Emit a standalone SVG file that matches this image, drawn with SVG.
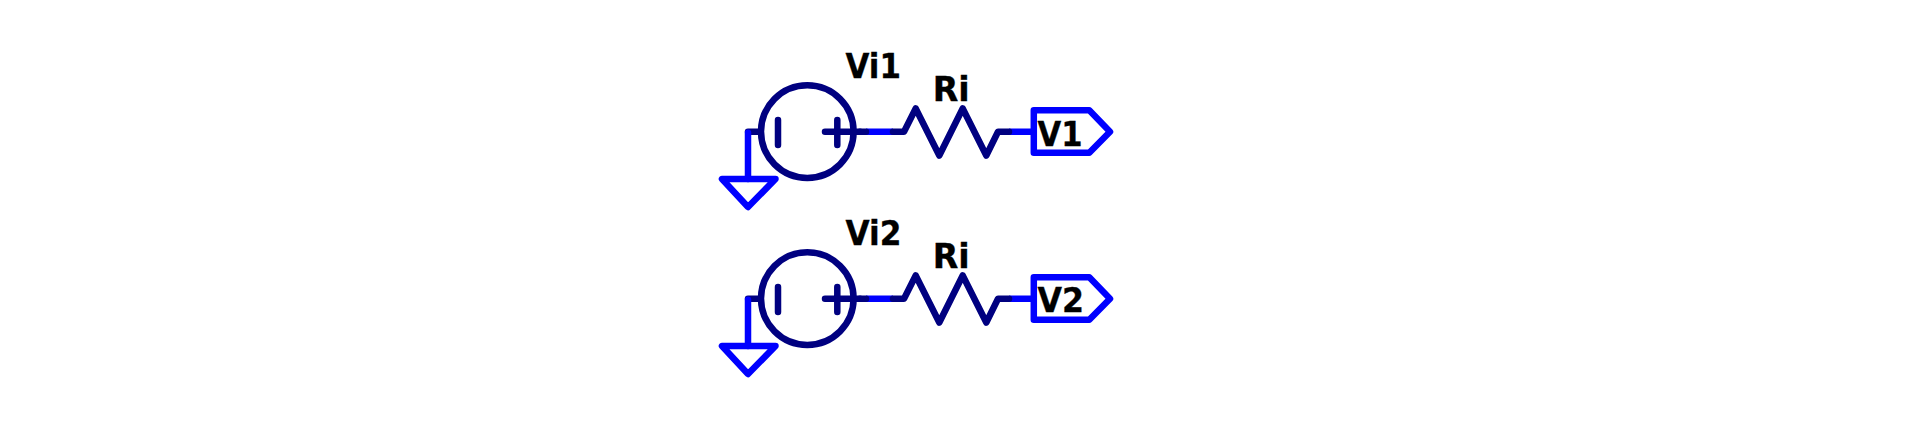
<svg xmlns="http://www.w3.org/2000/svg" width="1916" height="432" viewBox="0 0 1916 432">
<style>
.s{fill:none;stroke:#000080;stroke-width:6.5;stroke-linecap:round;stroke-linejoin:round}
.w{fill:none;stroke:#0000ff;stroke-width:6.5;stroke-linecap:butt;stroke-linejoin:round}
.f{fill:none;stroke:#0000ff;stroke-width:6.5;stroke-linecap:round;stroke-linejoin:round}
text{font-family:"DejaVu Sans",Verdana,sans-serif;font-weight:700;font-size:34px;fill:#000;stroke:#000;stroke-width:.35px}
</style>
<rect width="1916" height="432" fill="#fff"/>
<defs>
<g id="src"><circle cx="807.3" cy="131.6" r="46.3" class="s"/><path class="s" d="M778 120V145M825 131.7H860M837.3 120V145"/></g>
<g id="res"><path class="s" d="M860 131.7H866M893 131.7H904L915.7 108.5L939.3 155.5L962.7 108.5L986.3 155.5L998 131.7H1009"/></g>
</defs>
<g id="connectors">
<path class="s" d="M748 131.7H758"/>
<path class="f" d="M748 179V132.7"/>
<path class="w" d="M866 131.7H893M1009 131.7H1033"/>
<path class="s" d="M748 298.7H758"/>
<path class="f" d="M748 346V299.7"/>
<path class="w" d="M866 298.7H893M1009 298.7H1033"/>
</g>
<g id="V1src"><use href="#src"/></g>
<g id="R1"><use href="#res"/></g>
<g id="gnd1"><path class="f" d="M722 179H775.5L748 207Z"/></g>
<g id="port1"><path class="f" d="M1033.8 110.3H1089.3L1110 131.7L1089.3 152.7H1033.8Z"/><text x="1037.5" y="145.7" textLength="45" lengthAdjust="spacingAndGlyphs">V1</text></g>
<g id="lab1"><text x="845.5" y="78.3" textLength="55.4" lengthAdjust="spacingAndGlyphs">Vi1</text><text x="932.7" y="100.7" textLength="37" lengthAdjust="spacingAndGlyphs">Ri</text></g>
<g id="V2src"><use href="#src" y="167"/></g>
<g id="R2"><use href="#res" y="167"/></g>
<g id="gnd2"><path class="f" d="M722 346H775.5L748 374Z"/></g>
<g id="port2"><path class="f" d="M1033.8 277.3H1089.3L1110 298.7L1089.3 319.7H1033.8Z"/><text x="1037.5" y="312.3" textLength="46.5" lengthAdjust="spacingAndGlyphs">V2</text></g>
<g id="lab2"><text x="845.5" y="245" textLength="56" lengthAdjust="spacingAndGlyphs">Vi2</text><text x="932.7" y="267.7" textLength="37" lengthAdjust="spacingAndGlyphs">Ri</text></g>
</svg>
